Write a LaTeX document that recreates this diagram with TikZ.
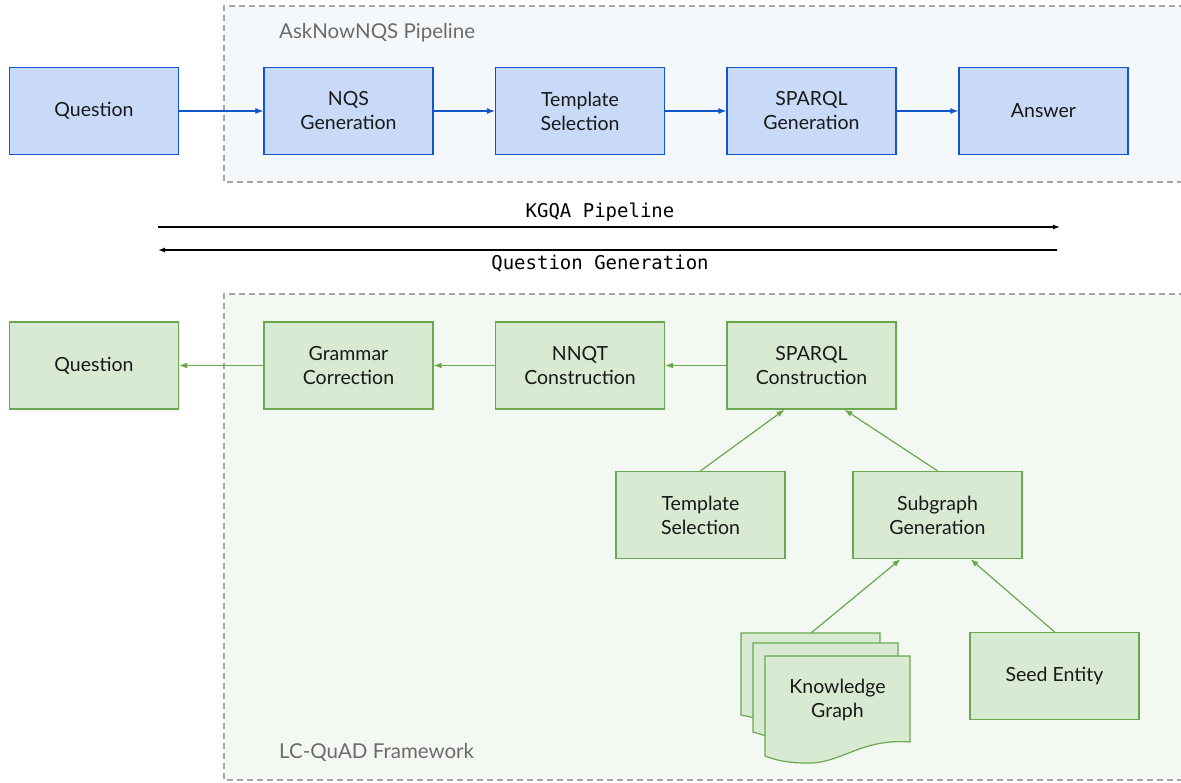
\documentclass[tikz,border=0pt]{standalone}
\usepackage{fontspec}
\setmainfont{Lato}
\newfontfamily\monofont{DejaVu Sans Mono}
\usetikzlibrary{arrows.meta}
\definecolor{bluefill}{HTML}{C9DAF8}
\definecolor{bluedraw}{HTML}{1155CC}
\definecolor{greenfill}{HTML}{D9EAD3}
\definecolor{greendraw}{HTML}{6AA84F}
\definecolor{regionblue}{HTML}{F5F8FB}
\definecolor{regiongreen}{HTML}{F4F8F2}
\definecolor{regionline}{HTML}{A6A6A6}
\definecolor{labelgrey}{HTML}{6B6B6B}
\tikzset{
  txt/.style={font=\fontsize{19.5}{24}\selectfont, align=center, text=black!90},
  bluebox/.style={txt, draw=bluedraw, fill=bluefill, line width=1.3pt,
    minimum width=169pt, minimum height=87pt, inner sep=0pt},
  greenbox/.style={txt, draw=greendraw, fill=greenfill, line width=1.3pt,
    minimum width=169pt, minimum height=87pt, inner sep=0pt},
  region/.style={draw=regionline, line width=1.3pt, dash pattern=on 6pt off 4pt},
  bluearrow/.style={draw=bluedraw, line width=1.2pt, -{Latex[length=8pt,width=6pt]}},
  greenarrow/.style={draw=greendraw, line width=1.2pt, -{Latex[length=8pt,width=6pt]}},
  blackarrow/.style={draw=black, line width=1.3pt, -{Latex[length=7pt,width=5pt]}},
  regionlabel/.style={font=\fontsize{20.5}{24}\selectfont, text=labelgrey, anchor=base west, inner xsep=0pt},
  monolabel/.style={font=\monofont\fontsize{19}{22}\selectfont, anchor=base},
  docshape/.style={draw=greendraw, fill=greenfill, line width=1.2pt},
}
\begin{document}
\begin{tikzpicture}[x=1pt,y=-1pt]
\useasboundingbox (0,0) rectangle (1181,783);

% framed regions
\fill[regionblue] (224,6) rectangle (1185,182);
\draw[region] (1185,6) -- (224,6) -- (224,182) -- (1185,182);
\fill[regiongreen] (224,294) rectangle (1185,780);
\draw[region] (1185,294) -- (224,294) -- (224,780) -- (1185,780);
\node[regionlabel] (asklabel) at (279,39) {AskNowNQS Pipeline};
\node[regionlabel] (lclabel) at (279,758) {LC-QuAD Framework};

% upper pipeline
\node[bluebox] (q1)   at (94,111)  {Question};
\node[bluebox] (nqs)  at (348.5,111) {NQS\\Generation};
\node[bluebox] (ts1)  at (580,111) {Template\\Selection};
\node[bluebox] (spg)  at (811.5,111) {SPARQL\\Generation};
\node[bluebox] (ans)  at (1043.5,111) {Answer};
\draw[bluearrow] (q1) -- (nqs);
\draw[bluearrow] (nqs) -- (ts1);
\draw[bluearrow] (ts1) -- (spg);
\draw[bluearrow] (spg) -- (ans);

% direction arrows
\coordinate (kgA) at (158,227);
\coordinate (kgB) at (1060,227);
\coordinate (qgA) at (1057,250);
\coordinate (qgB) at (158,250);
\draw[blackarrow] (kgA) -- (kgB);
\draw[blackarrow] (qgA) -- (qgB);
\node[monolabel] (kglabel) at (600,218) {KGQA Pipeline};
\node[monolabel] (qglabel) at (600,270) {Question Generation};

% lower framework
\node[greenbox] (q2)   at (94,365.5)  {Question};
\node[greenbox] (gc)   at (348.5,365.5) {Grammar\\Correction};
\node[greenbox] (nnqt) at (580,365.5) {NNQT\\Construction};
\node[greenbox] (spc)  at (811.5,365.5) {SPARQL\\Construction};
\node[greenbox] (ts2)  at (700.5,515) {Template\\Selection};
\node[greenbox] (sub)  at (937.5,515) {Subgraph\\Generation};
\node[greenbox] (seed) at (1054.5,676) {Seed Entity};

% stacked documents
\draw[docshape] (741,715) -- (741,633) -- (880,633) -- (880,700)
  .. controls (840,697) and (820,720) .. (780,721) .. controls (765,721) and (752,717) .. cycle;
\draw[docshape] (753,732) -- (753,643) -- (898,643) -- (898,718)
  .. controls (850,714) and (830,740) .. (790,739) .. controls (775,739) and (763,735) .. cycle;
\draw[docshape] (765,756) -- (765,656) -- (910,656) -- (910,742)
  .. controls (860,738) and (840,765) .. (805,763) .. controls (788,763) and (775,760) .. cycle;
\node[txt] (kg) at (837.5,700) {Knowledge\\Graph};
\coordinate (kgtop) at (811,633);

\draw[greenarrow] (gc) -- (q2);
\draw[greenarrow] (nnqt) -- (gc);
\draw[greenarrow] (spc) -- (nnqt);
\draw[greenarrow] (ts2.north) -- ([xshift=-27pt]spc.south);
\draw[greenarrow] (sub.north) -- ([xshift=33pt]spc.south);
\draw[greenarrow] (kgtop) -- ([xshift=-37pt]sub.south);
\draw[greenarrow] (seed.north) -- ([xshift=33pt]sub.south);
\end{tikzpicture}
\end{document}
